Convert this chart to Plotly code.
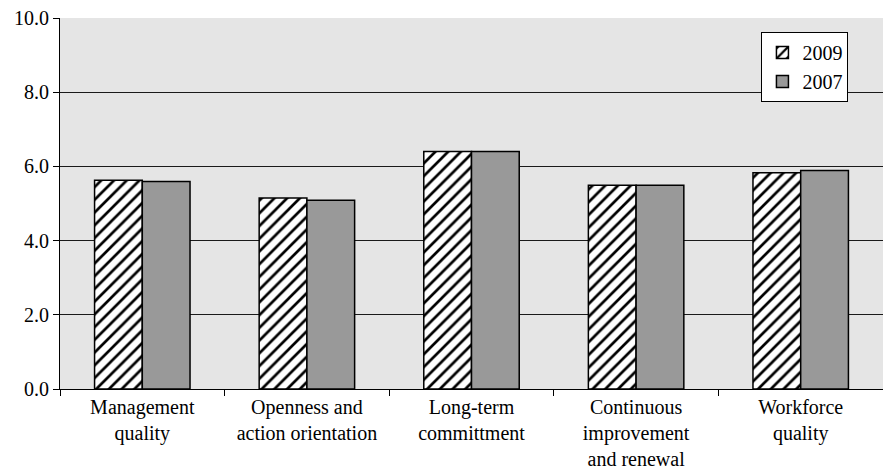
import plotly.graph_objects as go

categories = [
    "Management<br>quality",
    "Openness and<br>action orientation",
    "Long-term<br>committment",
    "Continuous<br>improvement<br>and renewal",
    "Workforce<br>quality",
]
values_2009 = [5.63, 5.15, 6.40, 5.49, 5.83]
values_2007 = [5.59, 5.09, 6.40, 5.49, 5.89]
y_ticks = [0, 2, 4, 6, 8, 10]

FONT = "Liberation Serif, Times New Roman, serif"

fig = go.Figure()
fig.add_trace(go.Bar(
    name="2009", x=categories, y=values_2009,
    marker=dict(color="white", line=dict(color="black", width=1.5),
                pattern=dict(shape="/", fgcolor="black", bgcolor="white",
                             fgopacity=1, size=9, solidity=0.3)),
))
fig.add_trace(go.Bar(
    name="2007", x=categories, y=values_2007,
    marker=dict(color="#999999", line=dict(color="black", width=1.5)),
))

fig.update_layout(
    width=883, height=471,
    margin=dict(l=60, r=0, t=18, b=82),
    barmode="group", bargap=0.42, bargroupgap=0,
    plot_bgcolor="#e5e5e5", paper_bgcolor="white",
    font=dict(family=FONT, size=20, color="black"),
    showlegend=True,
    legend=dict(x=0.958, y=0.962, xanchor="right", yanchor="top",
                bgcolor="white", bordercolor="black", borderwidth=1,
                font=dict(size=20), tracegroupgap=0,
                itemwidth=30),
    xaxis=dict(showline=True, linecolor="black", linewidth=1,
               ticks="outside", ticklen=6, tickcolor="black",
               tickson="boundaries", showgrid=False),
    yaxis=dict(range=[0, 10], tickvals=y_ticks,
               ticktext=[f"{v:.1f}" for v in y_ticks],
               showline=True, linecolor="black", linewidth=1,
               ticks="outside", ticklen=6, tickcolor="black",
               showgrid=True, gridcolor="#1a1a1a", gridwidth=1.2,
               zeroline=False),
)

fig.write_html("out.html")
